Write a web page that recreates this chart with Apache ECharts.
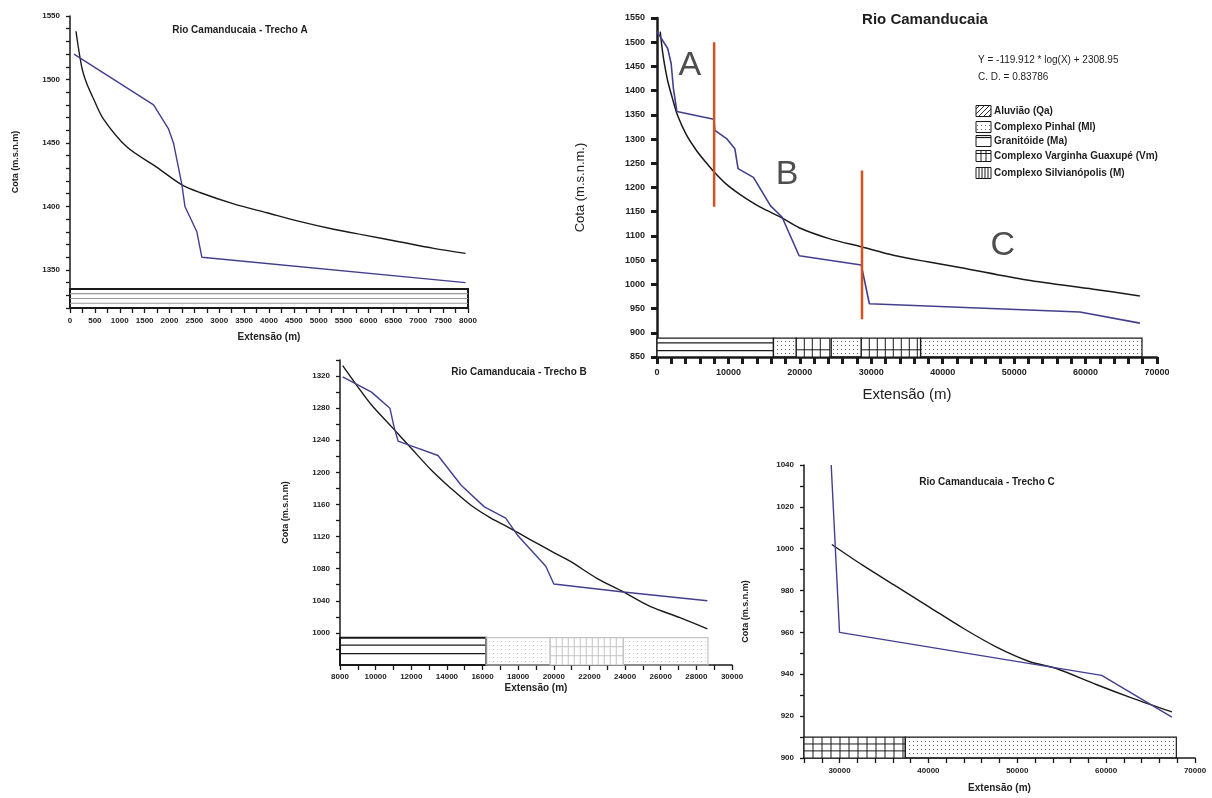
<!DOCTYPE html>
<html>
<head>
<meta charset="utf-8">
<title>Rio Camanducaia - perfil longitudinal</title>
<script src="https://cdn.jsdelivr.net/npm/echarts@6/dist/echarts.min.js"></script>
<style>
    html, body { margin: 0; padding: 0; background: #fff; }
    #main-chart { width: 1212px; height: 798px; }
</style>
</head>
<body>
<div id="main-chart"></div>
<script>
// perfil completo [extensão (m), cota (m)]
const profileMain = [[0, 1522], [1500, 1487], [1980, 1456], [2300, 1404], [2780, 1357], [7950, 1341], [8100, 1318],
    [9740, 1301], [10900, 1280], [11350, 1239], [13500, 1221], [15900, 1162], [17500, 1139], [19900, 1059],
    [28600, 1040], [28800, 1036], [29730, 960], [59200, 943], [67600, 920]];
const trendMain = [[450, 1522], [800, 1478], [1100, 1450], [1500, 1420], [2200, 1382], [2900, 1348], [4100, 1309],
    [5500, 1277], [6900, 1251], [8000, 1232], [9700, 1207], [11600, 1186], [14400, 1160], [17400, 1138],
    [19900, 1117], [24000, 1095], [28700, 1077], [33100, 1060], [37700, 1047], [42400, 1035], [51800, 1009],
    [61100, 990], [67600, 976]];
// limites dos trechos [x, cota inferior, cota superior]
const cutLines = [[8000, 1160, 1500], [28700, 928, 1235]];
const segLabels = ['A', 'B', 'C'];
const segLabelPos = [[4600, 1451], [18200, 1226], [48400, 1081]];

// trecho A
const profileA = [[80, 1520], [1680, 1480], [1980, 1461], [2080, 1450], [2250, 1417], [2310, 1400], [2550, 1380],
    [2650, 1360], [7950, 1340]];
const trendA = [[120, 1538], [235, 1510], [335, 1497], [470, 1485], [670, 1469], [1140, 1447], [1740, 1431],
    [2250, 1417], [2610, 1411], [3290, 1402], [3960, 1395], [4630, 1388], [5300, 1382], [5970, 1377],
    [6640, 1372], [7310, 1367], [7950, 1363]];

// trecho B
const profileB = [[8150, 1319], [9770, 1300], [10800, 1280], [11030, 1257], [11260, 1239], [12000, 1233],
    [13500, 1221], [14800, 1184], [16100, 1157], [17300, 1143], [17950, 1122], [19550, 1083], [20000, 1061],
    [23900, 1051], [28620, 1040]];
const trendB = [[8150, 1333], [9020, 1306], [9770, 1284], [10890, 1257], [12000, 1230], [13120, 1203],
    [14230, 1180], [15350, 1159], [16470, 1143], [17580, 1130], [18700, 1116], [20000, 1100], [20930, 1089],
    [22420, 1068], [23910, 1051], [25400, 1033], [27080, 1019], [28620, 1005]];

// trecho C
const profileC = [[29060, 1040], [30000, 960], [59500, 939.5], [67400, 919.5]];
const trendC = [[29130, 1002], [32630, 992], [36390, 982], [40150, 972], [43910, 962], [47670, 953],
    [51430, 946], [54250, 943], [58950, 935], [62700, 929], [67400, 922]];

// geologia [início, fim, unidade]
const geoMain = [[0, 16300, 'Ma'], [16300, 19500, 'Ml'], [19500, 24200, 'Vm'], [24400, 28600, 'Ml'],
    [28600, 36900, 'Vm'], [36900, 67900, 'Ml']];
const geoA = [[0, 8000, 'Ma']];
const geoB = [[8000, 16200, 'Ma'], [16200, 19800, 'Ml'], [19800, 23900, 'Vm'], [23900, 28650, 'Ml']];
const geoC = [[26000, 37400, 'Vm'], [37400, 67900, 'Ml']];

const legendNames = ['Aluvião (Qa)', 'Complexo Pinhal (Ml)', 'Granitóide (Ma)',
    'Complexo Varginha Guaxupé (Vm)', 'Complexo Silvianópolis (M)'];
const legendKinds = ['Qa', 'Ml', 'Ma', 'Vm', 'M'];

const FONT = "'Liberation Sans Narrow', 'Liberation Sans', Arial, sans-serif";
const BLUE = '#433f8f';
const INK = '#1a1a1a';

// padrões de preenchimento
function makePattern(kind, color) {
    const c = document.createElement('canvas');
    const ctx = c.getContext('2d');
    if (kind === 'dots') {
        c.width = 4; c.height = 4;
        ctx.fillStyle = color;
        ctx.fillRect(1, 1, 1, 1);
    } else if (kind === 'hatch') {
        c.width = 5; c.height = 5;
        ctx.strokeStyle = color;
        ctx.lineWidth = 1;
        ctx.beginPath();
        ctx.moveTo(0, 5); ctx.lineTo(5, 0);
        ctx.stroke();
    }
    return { image: c, repeat: 'repeat' };
}
const dots = makePattern('dots', '#666');
const dotsSoft = makePattern('dots', '#cfcfcf');
const hatch = makePattern('hatch', '#333');

function geoSeries(idx, list, top, bottom, o) {
    return {
        type: 'custom',
        xAxisIndex: idx,
        yAxisIndex: idx,
        silent: true,
        z: 1,
        data: list.map(g => [g[0], g[1]]),
        renderItem: function (params, api) {
            const seg = list[params.dataIndex];
            const p0 = api.coord([seg[0], top]);
            const p1 = api.coord([seg[1], bottom]);
            const x = p0[0], y = p0[1], w = p1[0] - p0[0], h = p1[1] - p0[1];
            const kind = seg[2];
            const soft = o.faint && kind !== 'Ma';
            const ink = soft ? '#c4c4c4' : INK;
            const kids = [{
                type: 'rect',
                shape: { x: x, y: y, width: w, height: h },
                style: {
                    fill: kind === 'Ml' ? (soft ? dotsSoft : dots) : '#fff',
                    stroke: ink,
                    lineWidth: kind === 'Ma' ? o.maBorder : 1.2
                }
            }];
            if (kind === 'Ma') {
                o.maLines.forEach(f => kids.push({
                    type: 'line',
                    shape: { x1: x, y1: y + h * f, x2: x + w, y2: y + h * f },
                    style: { stroke: o.maColor, lineWidth: 1.2 }
                }));
            }
            if (kind === 'Vm') {
                for (let vx = x + o.vmStep; vx < x + w - 2; vx += o.vmStep) {
                    kids.push({
                        type: 'line',
                        shape: { x1: vx, y1: y, x2: vx, y2: y + h },
                        style: { stroke: ink, lineWidth: 1 }
                    });
                }
                o.vmLines.forEach(f => kids.push({
                    type: 'line',
                    shape: { x1: x, y1: y + h * f, x2: x + w, y2: y + h * f },
                    style: { stroke: ink, lineWidth: 1 }
                }));
            }
            return { type: 'group', children: kids };
        }
    };
}

function makeAxis(idx, min, max, step, every, o) {
    return {
        type: 'value',
        gridIndex: idx,
        min: min,
        max: max,
        interval: step,
        name: o.name,
        nameLocation: 'middle',
        nameGap: o.gap,
        nameTextStyle: { fontFamily: FONT, fontSize: o.nameSize, color: '#222', fontWeight: o.nameWeight || 'bold' },
        axisLine: { show: true, onZero: false, lineStyle: { color: INK, width: o.lineW } },
        axisTick: { show: true, inside: false, length: o.tickLen, lineStyle: { color: INK, width: o.tickW } },
        axisLabel: {
            fontFamily: FONT, fontSize: o.labelSize, color: '#222', fontWeight: 'bold', margin: o.margin,
            showMinLabel: o.showMin !== false,
            formatter: v => (Math.round(v) % every === 0 ? String(v) : '')
        },
        splitLine: { show: false }
    };
}

function lineSeries(idx, data, color, width, z, smooth) {
    return {
        type: 'line',
        xAxisIndex: idx,
        yAxisIndex: idx,
        data: data,
        showSymbol: false,
        symbol: 'none',
        silent: true,
        smooth: smooth || false,
        z: z,
        lineStyle: { color: color, width: width }
    };
}

function textEl(str, x, y, size, weight, align) {
    return {
        type: 'text',
        x: x,
        y: y,
        silent: true,
        style: {
            text: str,
            fill: '#1e1e1e',
            font: (weight || 'normal') + ' ' + size + 'px ' + FONT,
            align: align || 'center',
            verticalAlign: 'middle'
        }
    };
}

// legenda da geologia
function legendEls() {
    const rows = [111, 127, 141, 156, 173];
    const els = [];
    legendKinds.forEach((k, i) => {
        const x = 976, w = 15, h = 11, y = rows[i] - h / 2;
        els.push({
            type: 'rect', silent: true,
            shape: { x: x, y: y, width: w, height: h },
            style: { fill: k === 'Qa' ? hatch : (k === 'Ml' ? dots : '#fff'), stroke: INK, lineWidth: 1 }
        });
        if (k === 'Ma') {
            els.push({ type: 'line', silent: true, shape: { x1: x, y1: y + 2, x2: x + w, y2: y + 2 },
                style: { stroke: INK, lineWidth: 1.2 } });
        }
        if (k === 'Vm') {
            els.push({ type: 'line', silent: true, shape: { x1: x, y1: y + 3, x2: x + w, y2: y + 3 },
                style: { stroke: INK, lineWidth: 1 } });
            [5, 10].forEach(d => els.push({ type: 'line', silent: true,
                shape: { x1: x + d, y1: y, x2: x + d, y2: y + h }, style: { stroke: INK, lineWidth: 1 } }));
        }
        if (k === 'M') {
            [3, 6, 9, 12].forEach(d => els.push({ type: 'line', silent: true,
                shape: { x1: x + d, y1: y, x2: x + d, y2: y + h }, style: { stroke: INK, lineWidth: 1 } }));
        }
        els.push(textEl(legendNames[i], 994, rows[i], 10, 'bold', 'left'));
    });
    return els;
}

const chartDom = document.getElementById('main-chart');
const myChart = echarts.init(chartDom, null, { renderer: 'canvas' });

const option = {
    animation: false,
    backgroundColor: '#fff',
    grid: [
        { left: 70, top: 16, width: 398, height: 292 },
        { left: 657, top: 18, width: 500, height: 339 },
        { left: 340, top: 360, width: 392, height: 305 },
        { left: 804, top: 465, width: 391, height: 293 }
    ],
    xAxis: [
        makeAxis(0, 0, 8000, 250, 500, { name: 'Extensão (m)', gap: 24, nameSize: 10, lineW: 1.5, tickLen: 5, tickW: 1.3, labelSize: 8, margin: 9 }),
        makeAxis(1, 0, 70000, 2000, 10000, { name: 'Extensão (m)', gap: 30, nameSize: 15, nameWeight: 'normal', lineW: 2.5, tickLen: 7, tickW: 3, labelSize: 9, margin: 11 }),
        makeAxis(2, 8000, 30000, 1000, 2000, { name: 'Extensão (m)', gap: 18, nameSize: 10, lineW: 1.5, tickLen: 5, tickW: 1.3, labelSize: 8, margin: 8 }),
        makeAxis(3, 26000, 70000, 2000, 10000, { name: 'Extensão (m)', gap: 25, nameSize: 10, lineW: 1.5, tickLen: 5, tickW: 1.3, labelSize: 8, margin: 9 })
    ],
    yAxis: [
        makeAxis(0, 1320, 1550, 10, 50, { name: 'Cota (m.s.n.m)', gap: 50, nameSize: 9, lineW: 1.5, tickLen: 4, tickW: 1.3, labelSize: 8, margin: 10 }),
        makeAxis(1, 850, 1550, 50, 50, { name: 'Cota (m.s.n.m.)', gap: 70, nameSize: 13, nameWeight: 'normal', lineW: 2.5, tickLen: 6, tickW: 3, labelSize: 9, margin: 12 }),
        makeAxis(2, 960, 1340, 20, 40, { name: 'Cota (m.s.n.m)', gap: 50, nameSize: 9, lineW: 1.5, tickLen: 4, tickW: 1.3, labelSize: 8, margin: 10, showMin: false }),
        makeAxis(3, 900, 1040, 10, 20, { name: 'Cota (m.s.n.m)', gap: 54, nameSize: 9, lineW: 1.5, tickLen: 4, tickW: 1.3, labelSize: 8, margin: 10 })
    ],
    graphic: [
        textEl('Rio Camanducaia - Trecho A', 240, 30, 10, 'bold'),
        textEl('Rio Camanducaia', 925, 20, 15, 'bold'),
        textEl('Rio Camanducaia - Trecho B', 519, 372, 10, 'bold'),
        textEl('Rio Camanducaia - Trecho C', 987, 482, 10, 'bold'),
        textEl('Y = -119.912 * log(X) + 2308.95', 978, 60, 10, 'normal', 'left'),
        textEl('C. D. = 0.83786', 978, 77, 10, 'normal', 'left')
    ].concat(legendEls()),
    series: [
        // trecho A
        geoSeries(0, geoA, 1335, 1320, { maBorder: 2, maLines: [0.25, 0.5, 0.75], maColor: '#999', vmStep: 9, vmLines: [] }),
        lineSeries(0, trendA, INK, 1.4, 3, 0.3),
        lineSeries(0, profileA, BLUE, 1.4, 4),
        // perfil completo
        geoSeries(1, geoMain, 889, 850, { maBorder: 1.3, maLines: [0.25, 0.66], maColor: INK, vmStep: 8, vmLines: [0.62] }),
        lineSeries(1, trendMain, INK, 1.5, 3, 0.3),
        lineSeries(1, profileMain, BLUE, 1.6, 4)
    ].concat(cutLines.map(c => lineSeries(1, [[c[0], c[1]], [c[0], c[2]]], '#d4521f', 2.5, 5)))
    .concat([
        {
            type: 'scatter',
            xAxisIndex: 1,
            yAxisIndex: 1,
            silent: true,
            symbolSize: 0,
            data: segLabels.map((s, i) => ({ name: s, value: segLabelPos[i] })),
            label: {
                show: true,
                position: 'inside',
                formatter: '{b}',
                fontFamily: "'Liberation Sans', Arial, sans-serif",
                fontSize: 34,
                color: '#222'
            }
        },
        // trecho B
        geoSeries(2, geoB, 994, 960, { faint: true, maBorder: 2, maLines: [0.27, 0.58], maColor: INK, vmStep: 6, vmLines: [0.33, 0.66] }),
        lineSeries(2, trendB, INK, 1.4, 3, 0.3),
        lineSeries(2, profileB, BLUE, 1.4, 4),
        // trecho C
        geoSeries(3, geoC, 910, 900, { maBorder: 1.5, maLines: [0.5], maColor: INK, vmStep: 9, vmLines: [0.33, 0.66] }),
        lineSeries(3, trendC, INK, 1.4, 3, 0.3),
        lineSeries(3, profileC, BLUE, 1.4, 4)
    ])
};

myChart.setOption(option);

window.addEventListener('resize', function () {
    myChart.resize();
});
</script>
</body>
</html>
